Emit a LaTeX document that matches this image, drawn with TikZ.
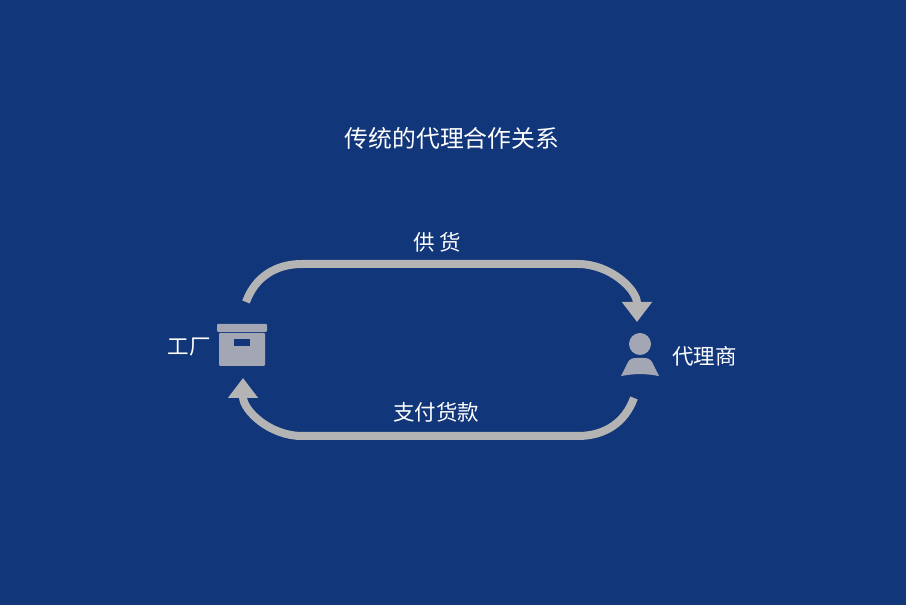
\documentclass[tikz,border=0pt]{standalone}
\usepackage{fontspec}
\setmainfont{Noto Sans CJK SC}
\usepackage{tikz}
\usetikzlibrary{arrows.meta,positioning}
\definecolor{bgblue}{HTML}{11367A}
\definecolor{flowgray}{HTML}{B4B4B4}
\definecolor{icongray}{HTML}{A3A6B3}

\begin{document}
\begin{tikzpicture}[x=1pt,y=1pt,
    flow/.style={draw=flowgray,line width=8pt,-{Triangle[width=29pt,length=20pt]}},
    label/.style={text=white,font=\fontsize{21.5}{24}\selectfont,inner sep=0pt}]
              \fill[bgblue] (0,0) rectangle (906,605);
              \useasboundingbox (0,0) rectangle (906,605);
              \node[text=white,font=\fontsize{23.8}{26}\selectfont,inner sep=0pt](title)at(452,467){传统的代理合作关系};
              % factory box
              \node[inner sep=0pt,minimum width=50pt,minimum height=42pt](factory)at(242,260){};
              \fill[icongray,rounded corners=1pt] (217,273) rectangle (267,281);
              \fill[icongray,rounded corners=1pt] (219,239) rectangle (265,272);
              \fill[bgblue] (234,259) rectangle (250,266);
              % agent person
              \node[inner sep=0pt,minimum width=38pt,minimum height=44pt](agent)at(640,253){};
              \fill[icongray] (640,261) circle (11);
              \fill[icongray] (621,229) -- (628,243) to[out=60,in=180] (636,247) -- (644,247)
                    to[out=0,in=120] (652,243) -- (659,229) to[out=170,in=10] cycle;
              \node[label,left=6pt of factory,yshift=-2pt](fl){工厂};
              \node[label,right=13pt of agent,yshift=-4pt](al){代理商};
              \coordinate (s1) at (246,303);
              \coordinate (e1) at (637,283);
              \coordinate (s2) at (634,207);
              \coordinate (e2) at (243,227);
              \draw[flow](s1) to[out=70,in=180] (302,341) -- (578,341) to[out=0,in=90] (e1);
              \draw[flow](s2) to[out=-110,in=0] (578,169) -- (302,169) to[out=180,in=-90] (e2);
              \node[label](supply)at(437,363){供 货};
              \node[label](pay)at(436,193){支付货款};
            \end{tikzpicture}
\end{document}
